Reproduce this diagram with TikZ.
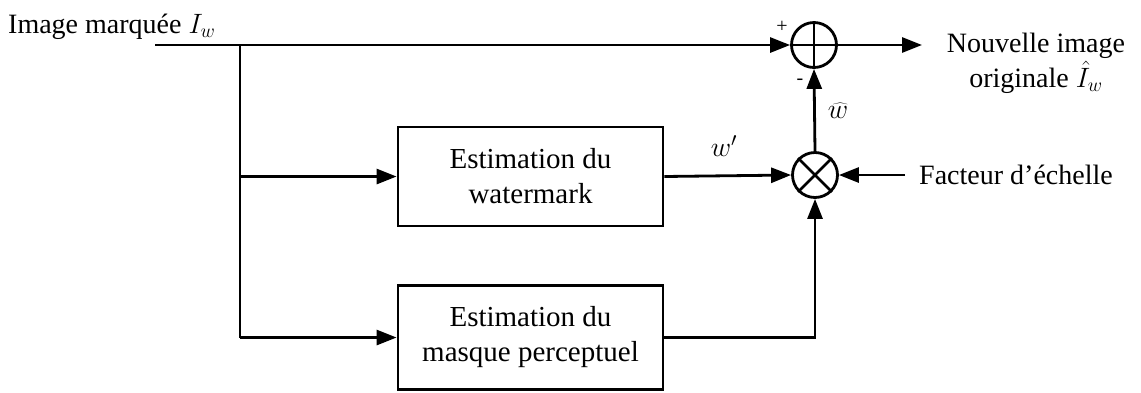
\documentclass[tikz,border=0pt]{standalone}
\usepackage{fix-cm}
\usepackage{fontspec}
\setmainfont{Liberation Serif}
\usetikzlibrary{arrows.meta}
\begin{document}
\begin{tikzpicture}[x=1pt,y=-1pt,
  wire/.style={line width=2.8pt},
  flow/.style={wire,-{Triangle[length=20pt,width=15pt]}},
  block/.style={draw,line width=2.8pt,rectangle,align=center,inner sep=0pt,
    font=\fontsize{29}{35}\selectfont},
  op/.style={draw,line width=2.8pt,circle,minimum size=45pt,inner sep=0pt},
  lbl/.style={inner sep=0pt,font=\fontsize{28}{35}\selectfont},
  sgn/.style={inner sep=0pt,font=\fontsize{20}{24}\selectfont}]
\useasboundingbox (0,0) rectangle (1141,392);

% blocks and operators
\node[block,minimum width=265pt,minimum height=99pt] (wm) at (530.5,176.5) {Estimation du\\watermark};
\node[block,minimum width=265pt,minimum height=104pt] (mp) at (530.5,337.5) {Estimation du\\masque perceptuel};
\node[op] (sum) at (814,45) {};
\node[op] (mul) at (815,175) {};
\draw[wire] (sum.north) -- (sum.south) (sum.west) -- (sum.east);
\draw[wire] (mul.north west) -- (mul.south east) (mul.north east) -- (mul.south west);

% free ends
\coordinate (in) at (155,45);
\coordinate (split) at (240,45);
\coordinate (out) at (922,45);
\coordinate (fac) at (905,175);

% connectors
\draw[flow] (in) -- (sum.west);
\draw[wire] (split) -- (split |- mp.west);
\draw[flow] (split |- wm.west) -- (wm.west);
\draw[flow] (split |- mp.west) -- (mp.west);
\draw[flow] (wm.east) -- (mul.west);
\draw[flow] (fac) -- (mul.east);
\draw[flow] (mp.east) -| (mul.south);
\draw[flow] (mul.north) -- (sum.south);
\draw[flow] (sum.east) -- (out);

% labels
\node[lbl,anchor=base west] (lin) at (8,33) {Image marquée $I_w$};
\node[lbl,align=center] (lout) at (1036,63) {Nouvelle image\\originale $\hat{I}_w$};
\node[lbl,anchor=west] (lfac) at (919,175) {Facteur d’échelle};
\node[lbl] (lwp) at (724,146) {$w'$};
\node[lbl] (lwh) at (838,111) {$\widehat{w}$};
\node[sgn] (plus) at (782,27) {+};
\node[sgn] (minus) at (800,82) {-};
\end{tikzpicture}
\end{document}
